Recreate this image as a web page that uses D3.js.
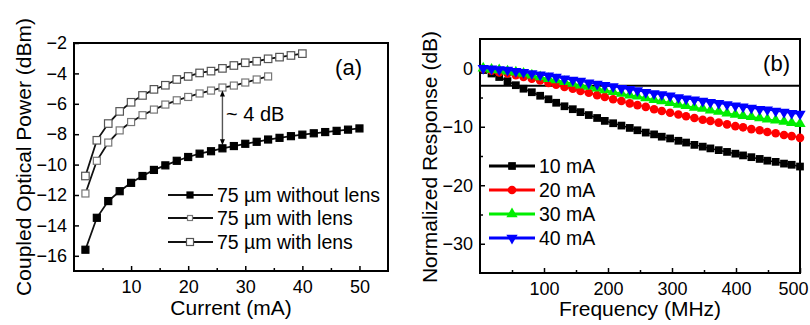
<!DOCTYPE html>
<html>
<head>
<meta charset="utf-8">
<script src="https://cdn.jsdelivr.net/npm/d3@7"></script>
<style>
  body { margin: 0; background: #fff; }
  svg text { font-family: Arial, "Liberation Sans", sans-serif; fill: #000; }
  .axis path { stroke: #000; stroke-width: 2; }
  .axis line { stroke: #000; stroke-width: 1.5; }
</style>
</head>
<body>
<svg id="chart" width="810" height="325"></svg>
<script>
// ---- panel (a): coupled power vs current
const currentA = [2, 4, 6, 8, 10, 12, 14, 16, 18, 20, 22, 24, 26, 28, 30, 32, 34, 36, 38, 40, 42, 44, 46, 48, 50];
const noLens = [-15.6, -13.5, -12.4, -11.75, -11.2, -10.75, -10.35, -10.05, -9.75, -9.5, -9.28, -9.12, -8.93, -8.78, -8.63, -8.5, -8.35, -8.24, -8.13, -8.03, -7.94, -7.86, -7.78, -7.7, -7.62];
const lensUpper = [-10.75, -8.4, -7.3, -6.5, -5.9, -5.45, -5.05, -4.78, -4.4, -4.2, -3.97, -3.85, -3.67, -3.48, -3.3, -3.2, -3.04, -2.93, -2.82, -2.7];
const lensLower = [-11.9, -9.75, -8.55, -7.75, -7.2, -6.75, -6.38, -6.05, -5.77, -5.55, -5.32, -5.13, -4.93, -4.8, -4.6, -4.4, -4.2];
const legendA = ['75 \u00b5m without lens', '75 \u00b5m with lens', '75 \u00b5m with lens'];
const xTicksA = [10, 20, 30, 40, 50];
const yTicksA = [-16, -14, -12, -10, -8, -6, -4, -2];

// ---- panel (b): normalized response vs frequency
const freq = [5, 18, 30, 43, 56, 68, 81, 94, 107, 119, 132, 145, 157, 170, 183, 195, 208, 221, 234, 246, 259, 272, 284, 297, 310, 322, 335, 348, 360, 373, 386, 399, 411, 424, 437, 449, 462, 475, 487, 500];
const r10 = [-0.3, -0.9, -1.5, -2.2, -2.9, -3.5, -4.1, -4.7, -5.3, -5.9, -6.5, -7.0, -7.5, -8.0, -8.5, -9.0, -9.4, -9.8, -10.2, -10.6, -11.0, -11.3, -11.7, -12.0, -12.4, -12.7, -13.1, -13.4, -13.7, -14.0, -14.3, -14.6, -14.9, -15.2, -15.5, -15.8, -16.0, -16.3, -16.5, -16.8];
const r20 = [-0.1, -0.4, -0.7, -0.9, -1.2, -1.5, -1.8, -2.1, -2.5, -2.8, -3.2, -3.5, -3.9, -4.2, -4.6, -4.9, -5.3, -5.6, -6.0, -6.3, -6.6, -7.0, -7.3, -7.6, -7.9, -8.2, -8.5, -8.8, -9.0, -9.3, -9.6, -9.9, -10.1, -10.4, -10.6, -10.9, -11.1, -11.4, -11.6, -11.9];
const r30 = [0.0, -0.2, -0.3, -0.5, -0.7, -0.9, -1.2, -1.5, -1.8, -2.0, -2.3, -2.6, -2.9, -3.1, -3.4, -3.7, -4.0, -4.3, -4.6, -4.8, -5.1, -5.4, -5.6, -5.9, -6.2, -6.4, -6.7, -6.9, -7.2, -7.4, -7.7, -7.9, -8.1, -8.3, -8.5, -8.7, -8.9, -9.1, -9.3, -9.5];
const r40 = [0.0, -0.1, -0.2, -0.3, -0.5, -0.7, -0.9, -1.1, -1.3, -1.5, -1.8, -2.0, -2.2, -2.5, -2.7, -2.9, -3.1, -3.4, -3.6, -3.8, -4.1, -4.3, -4.5, -4.7, -5.0, -5.2, -5.4, -5.6, -5.8, -6.0, -6.2, -6.4, -6.6, -6.8, -7.0, -7.1, -7.3, -7.5, -7.7, -7.8];
const legendB = ['10 mA', '20 mA', '30 mA', '40 mA'];
const xTicksB = [100, 200, 300, 400, 500];
const yTicksB = [-30, -20, -10, 0];
const cutoff = -3;

const svg = d3.select('#chart');

function box(g, x0, x1, y0, y1) {
  g.append('rect').attr('x', x0).attr('y', y0).attr('width', x1 - x0).attr('height', y1 - y0)
    .attr('fill', 'none').attr('stroke', '#000').attr('stroke-width', 2);
}

function axes(g, x, y, xt, xminor, yt, yminor, fs) {
  const [x0, x1] = x.range();
  const [y1, y0] = y.range();
  const ax = g.append('g').attr('class', 'axis').attr('transform', 'translate(0,' + y1 + ')')
    .call(d3.axisBottom(x).tickValues(xt).tickSize(-5).tickPadding(9).tickFormat(d3.format('d')));
  ax.select('.domain').remove();
  ax.selectAll('text').style('font-size', fs + 'px');
  g.append('g').attr('class', 'axis').attr('transform', 'translate(0,' + y1 + ')')
    .call(d3.axisBottom(x).tickValues(xminor).tickSize(-3).tickFormat(''))
    .select('.domain').remove();
  const ay = g.append('g').attr('class', 'axis').attr('transform', 'translate(' + x0 + ',0)')
    .call(d3.axisLeft(y).tickValues(yt).tickSize(-5).tickPadding(7).tickFormat(d3.format('d')));
  ay.select('.domain').remove();
  ay.selectAll('text').style('font-size', fs + 'px');
  g.append('g').attr('class', 'axis').attr('transform', 'translate(' + x0 + ',0)')
    .call(d3.axisLeft(y).tickValues(yminor).tickSize(-3).tickFormat(''))
    .select('.domain').remove();
  return ax;
}

// ================= panel (a)
const ga = svg.append('g');
const xa = d3.scaleLinear().domain([0, 55]).range([74, 388]);
const ya = d3.scaleLinear().domain([-17, -2]).range([271, 43]);
axes(ga, xa, ya, xTicksA, [5, 15, 25, 35, 45], yTicksA, [], 18);
box(ga, 74, 388, 43, 271);

const seriesA = [
  { name: legendA[0], v: noLens, fill: '#000', stroke: '#000', size: 7 },
  { name: legendA[1], v: lensLower, fill: '#fff', stroke: '#777', size: 7 },
  { name: legendA[2], v: lensUpper, fill: '#fff', stroke: '#555', size: 7.5 }
];
const lineA = d3.line().x((d, i) => xa(currentA[i])).y(d => ya(d));
seriesA.forEach(s => {
  ga.append('path').attr('d', lineA(s.v)).attr('fill', 'none').attr('stroke', '#111').attr('stroke-width', 1.8);
  ga.selectAll(null).data(s.v).enter().append('rect')
    .attr('x', (d, i) => xa(currentA[i]) - s.size / 2).attr('y', d => ya(d) - s.size / 2)
    .attr('width', s.size).attr('height', s.size)
    .attr('fill', s.fill).attr('stroke', s.stroke).attr('stroke-width', 1.2);
});

// ~4 dB arrow at 26 mA
const arrowX = xa(26);
const arrowTop = ya(lensLower[12]) + 3;
const arrowBot = ya(noLens[12]) - 3;
ga.append('line').attr('x1', arrowX).attr('x2', arrowX).attr('y1', arrowTop + 4).attr('y2', arrowBot - 4)
  .attr('stroke', '#555').attr('stroke-width', 1.4);
ga.append('path').attr('d', `M${arrowX},${arrowTop}l-2.5,6h5z`).attr('fill', '#000');
ga.append('path').attr('d', `M${arrowX},${arrowBot}l-2.5,-6h5z`).attr('fill', '#000');
ga.append('text').attr('x', 226).attr('y', 121).style('font-size', '20px').text('~ 4 dB');
ga.append('text').attr('x', 362).attr('y', 75).attr('text-anchor', 'end').style('font-size', '22px').text('(a)');

// legend (a)
seriesA.forEach((s, i) => {
  const ly = [195, 218, 242][i];
  ga.append('line').attr('x1', 168).attr('x2', 213).attr('y1', ly).attr('y2', ly).attr('stroke', '#111').attr('stroke-width', 2);
  const sz = [6, 5, 7][i];
  ga.append('rect').attr('x', 190 - sz / 2).attr('y', ly - sz / 2).attr('width', sz).attr('height', sz)
    .attr('fill', s.fill).attr('stroke', s.stroke).attr('stroke-width', 1.2);
  ga.append('text').attr('x', 217).attr('y', ly + 7).style('font-size', '19.5px').text(s.name);
});

ga.append('text').attr('x', 231).attr('y', 315).attr('text-anchor', 'middle').style('font-size', '21px').text('Current (mA)');
ga.append('text').attr('transform', 'translate(31,157) rotate(-90)').attr('text-anchor', 'middle')
  .style('font-size', '21px').text('Coupled Optical Power (dBm)');

// ================= panel (b)
const gb = svg.append('g');
const xb = d3.scaleLinear().domain([0, 500]).range([480, 800]);
const yb = d3.scaleLinear().domain([-35, 5]).range([273, 39]);
const axb = axes(gb, xb, yb, xTicksB, [50, 150, 250, 350, 450], yTicksB, [-25, -15, -5], 18);
// last label sits on the figure edge, pull it in like the original
axb.selectAll('text').filter(d => d === 500).attr('text-anchor', 'end').attr('x', 8);

box(gb, 480, 800, 39, 273);

gb.append('line').attr('x1', xb(0)).attr('x2', xb(500)).attr('y1', yb(cutoff)).attr('y2', yb(cutoff))
  .attr('stroke', '#000').attr('stroke-width', 2);

const seriesB = [
  { name: legendB[0], v: r10, color: '#000000', shape: d3.symbolSquare, size: 60 },
  { name: legendB[1], v: r20, color: '#ff0000', shape: d3.symbolCircle, size: 58 },
  { name: legendB[2], v: r30, color: '#00ee00', shape: d3.symbolTriangle, size: 55 },
  { name: legendB[3], v: r40, color: '#0000ff', shape: d3.symbolTriangle, size: 55, flip: true }
];
const lineB = d3.line().x((d, i) => xb(freq[i])).y(d => yb(d));
seriesB.forEach(s => {
  gb.append('path').attr('d', lineB(s.v)).attr('fill', 'none').attr('stroke', s.color).attr('stroke-width', 1.5);
  gb.selectAll(null).data(s.v).enter().append('path')
    .attr('d', d3.symbol().type(s.shape).size(s.size))
    .attr('transform', (d, i) => `translate(${xb(freq[i])},${yb(d)})` + (s.flip ? ' rotate(180)' : ''))
    .attr('fill', s.color);
});

seriesB.forEach((s, i) => {
  const ly = 166 + i * 24;
  gb.append('line').attr('x1', 489).attr('x2', 535).attr('y1', ly).attr('y2', ly).attr('stroke', s.color).attr('stroke-width', 3);
  gb.append('path').attr('d', d3.symbol().type(s.shape).size(s.size))
    .attr('transform', `translate(512,${ly})` + (s.flip ? ' rotate(180)' : '')).attr('fill', s.color);
  gb.append('text').attr('x', 539).attr('y', ly + 7).style('font-size', '19.5px').text(s.name);
});

gb.append('text').attr('x', 790).attr('y', 71).attr('text-anchor', 'end').style('font-size', '22px').text('(b)');
gb.append('text').attr('x', 640).attr('y', 316).attr('text-anchor', 'middle').style('font-size', '21px').text('Frequency (MHz)');
gb.append('text').attr('transform', 'translate(437,157) rotate(-90)').attr('text-anchor', 'middle')
  .style('font-size', '21px').text('Normalized Response (dB)');
</script>
</body>
</html>
